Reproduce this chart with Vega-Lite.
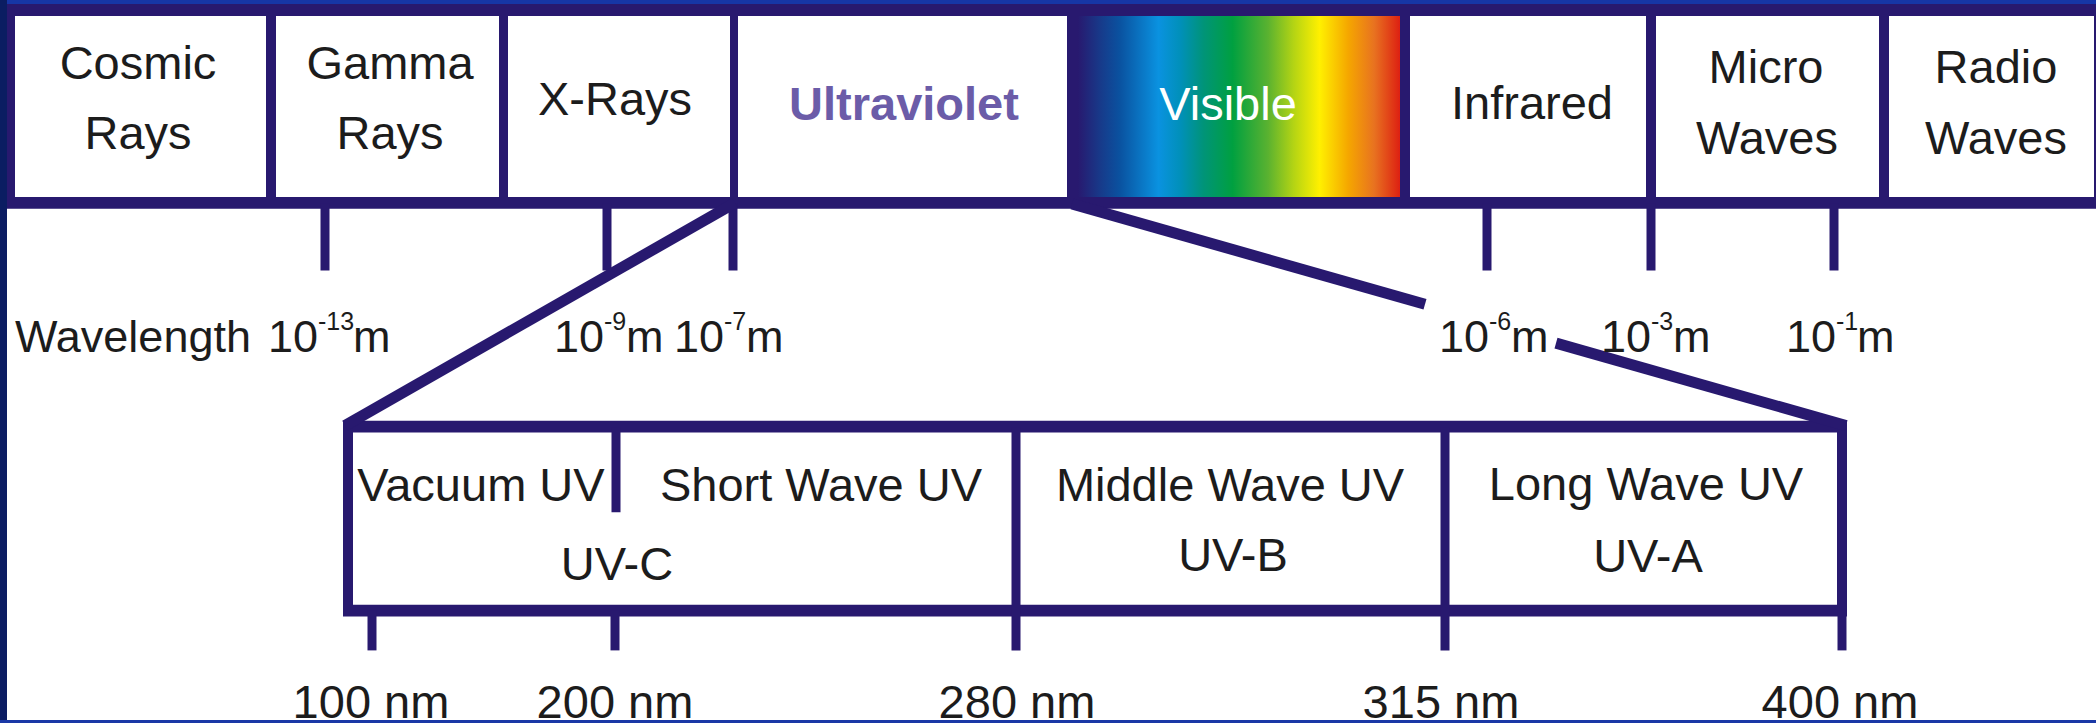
{
  "$schema": "https://vega.github.io/schema/vega-lite/v6.json",
  "autosize": {"type": "fit", "contains": "padding"},
  "width": 2096,
  "height": 727,
  "padding": 0,
  "background": "#ffffff",
  "config": {"view": {"stroke": null}, "axis": {"disable": true}, "text": {"font": "Liberation Sans"}},
  "datasets": {
    "rects": [
      {"part": "navy", "x1": 7, "x2": 2096, "y1": 4, "y2": 210},
      {"part": "white", "x1": 15, "x2": 266, "y1": 16, "y2": 198},
      {"part": "white", "x1": 276, "x2": 499, "y1": 16, "y2": 198},
      {"part": "white", "x1": 508, "x2": 730, "y1": 16, "y2": 198},
      {"part": "white", "x1": 738, "x2": 1067, "y1": 16, "y2": 198},
      {"part": "white", "x1": 1410, "x2": 1646, "y1": 16, "y2": 198},
      {"part": "white", "x1": 1656, "x2": 1879, "y1": 16, "y2": 198},
      {"part": "white", "x1": 1889, "x2": 2094, "y1": 16, "y2": 198},
      {"part": "navy", "x1": 343, "x2": 1847, "y1": 423, "y2": 620},
      {"part": "white", "x1": 353, "x2": 1837, "y1": 435, "y2": 608},
      {"part": "visible", "x1": 1078, "x2": 1400, "y1": 16, "y2": 198},
      {"part": "slideTop", "x1": 0, "x2": 2096, "y1": 0, "y2": 4},
      {"part": "slideLeft", "x1": 0, "x2": 7, "y1": 0, "y2": 727},
      {"part": "slideBottom", "x1": 0, "x2": 2096, "y1": 724, "y2": 727}
    ],
    "lines": [
      {"kind": "tick", "x1": 325, "y1": 205, "x2": 325, "y2": 272},
      {"kind": "tick", "x1": 607, "y1": 205, "x2": 607, "y2": 272},
      {"kind": "tick", "x1": 733, "y1": 205, "x2": 733, "y2": 272},
      {"kind": "tick", "x1": 1487, "y1": 205, "x2": 1487, "y2": 272},
      {"kind": "tick", "x1": 1651, "y1": 205, "x2": 1651, "y2": 272},
      {"kind": "tick", "x1": 1834, "y1": 205, "x2": 1834, "y2": 272},
      {"kind": "tick", "x1": 616, "y1": 430, "x2": 616, "y2": 515},
      {"kind": "tick", "x1": 1016, "y1": 430, "x2": 1016, "y2": 654},
      {"kind": "tick", "x1": 1445, "y1": 430, "x2": 1445, "y2": 654},
      {"kind": "tick", "x1": 372, "y1": 614, "x2": 372, "y2": 654},
      {"kind": "tick", "x1": 615, "y1": 614, "x2": 615, "y2": 654},
      {"kind": "tick", "x1": 1842, "y1": 614, "x2": 1842, "y2": 654},
      {"kind": "zoom", "x1": 735, "y1": 204, "x2": 345, "y2": 428},
      {"kind": "zoom", "x1": 1072, "y1": 205, "x2": 1425, "y2": 306},
      {"kind": "zoom", "x1": 1556, "y1": 345, "x2": 1846, "y2": 428}
    ],
    "labels": [
      {"kind": "band", "label": "Cosmic", "x": 138, "y": 79},
      {"kind": "band", "label": "Rays", "x": 138, "y": 150},
      {"kind": "band", "label": "Gamma", "x": 390, "y": 79},
      {"kind": "band", "label": "Rays", "x": 390, "y": 150},
      {"kind": "band", "label": "X-Rays", "x": 615, "y": 116},
      {"kind": "uvtitle", "label": "Ultraviolet", "x": 904, "y": 121},
      {"kind": "visible", "label": "Visible", "x": 1228, "y": 121},
      {"kind": "band", "label": "Infrared", "x": 1532, "y": 120},
      {"kind": "band", "label": "Micro", "x": 1766, "y": 83},
      {"kind": "band", "label": "Waves", "x": 1767, "y": 155},
      {"kind": "band", "label": "Radio", "x": 1996, "y": 83},
      {"kind": "band", "label": "Waves", "x": 1996, "y": 155},
      {"kind": "band", "label": "Vacuum UV", "x": 481, "y": 504},
      {"kind": "band", "label": "Short Wave UV", "x": 821, "y": 504},
      {"kind": "band", "label": "Middle Wave UV", "x": 1230, "y": 504},
      {"kind": "band", "label": "Long Wave UV", "x": 1646, "y": 503},
      {"kind": "band", "label": "UV-C", "x": 617, "y": 583},
      {"kind": "band", "label": "UV-B", "x": 1233, "y": 574},
      {"kind": "band", "label": "UV-A", "x": 1648, "y": 575},
      {"kind": "band", "label": "100 nm", "x": 371, "y": 722},
      {"kind": "band", "label": "200 nm", "x": 615, "y": 722},
      {"kind": "band", "label": "280 nm", "x": 1017, "y": 722},
      {"kind": "band", "label": "315 nm", "x": 1441, "y": 722},
      {"kind": "band", "label": "400 nm", "x": 1840, "y": 722},
      {"kind": "left", "label": "Wavelength", "x": 15, "y": 354},
      {"kind": "base", "label": "10", "x": 318, "y": 354},
      {"kind": "sup", "label": "-13", "x": 318, "y": 332},
      {"kind": "left", "label": "m", "x": 353, "y": 354},
      {"kind": "base", "label": "10", "x": 604, "y": 354},
      {"kind": "sup", "label": "-9", "x": 604, "y": 332},
      {"kind": "left", "label": "m", "x": 626, "y": 354},
      {"kind": "base", "label": "10", "x": 724, "y": 354},
      {"kind": "sup", "label": "-7", "x": 724, "y": 332},
      {"kind": "left", "label": "m", "x": 746, "y": 354},
      {"kind": "base", "label": "10", "x": 1489, "y": 354},
      {"kind": "sup", "label": "-6", "x": 1489, "y": 332},
      {"kind": "left", "label": "m", "x": 1511, "y": 354},
      {"kind": "base", "label": "10", "x": 1651, "y": 354},
      {"kind": "sup", "label": "-3", "x": 1651, "y": 332},
      {"kind": "left", "label": "m", "x": 1673, "y": 354},
      {"kind": "base", "label": "10", "x": 1836, "y": 354},
      {"kind": "sup", "label": "-1", "x": 1836, "y": 332},
      {"kind": "left", "label": "m", "x": 1857, "y": 354}
    ]
  },
  "layer": [
    {
      "data": {"name": "rects"},
      "transform": [{"filter": "datum.part === 'navy' || datum.part === 'white'"}],
      "mark": {"type": "rect", "strokeWidth": 0},
      "encoding": {
        "x": {"field": "x1", "type": "quantitative", "scale": {"domain": [0, 2096], "nice": false, "zero": false}},
        "x2": {"field": "x2"},
        "y": {"field": "y1", "type": "quantitative", "scale": {"domain": [0, 727], "nice": false, "zero": false, "reverse": true}},
        "y2": {"field": "y2"},
        "color": {"field": "part", "type": "nominal", "legend": null,
          "scale": {"domain": ["navy", "white", "slideTop", "slideLeft", "slideBottom"], "range": ["#28196f", "#ffffff", "#1636a6", "#0b1d62", "#1a38a6"]}}
      }
    },
    {
      "data": {"name": "rects"},
      "transform": [{"filter": "datum.part === 'visible'"}],
      "mark": {"type": "rect", "strokeWidth": 0,
        "fill": {"gradient": "linear", "x1": 0, "y1": 0, "x2": 1, "y2": 0, "stops": [
          {"offset": 0, "color": "#28196f"},
          {"offset": 0.07, "color": "#173a8a"},
          {"offset": 0.13, "color": "#0a52a0"},
          {"offset": 0.25, "color": "#0a92e0"},
          {"offset": 0.32, "color": "#0090b8"},
          {"offset": 0.39, "color": "#009478"},
          {"offset": 0.48, "color": "#00a040"},
          {"offset": 0.59, "color": "#5ab230"},
          {"offset": 0.67, "color": "#b4d414"},
          {"offset": 0.75, "color": "#fff000"},
          {"offset": 0.84, "color": "#f5a600"},
          {"offset": 0.92, "color": "#e87220"},
          {"offset": 1, "color": "#dd2012"}
        ]}},
      "encoding": {
        "x": {"field": "x1", "type": "quantitative"},
        "x2": {"field": "x2"},
        "y": {"field": "y1", "type": "quantitative"},
        "y2": {"field": "y2"}
      }
    },
    {
      "data": {"name": "lines"},
      "transform": [{"filter": "datum.kind === 'tick'"}],
      "mark": {"type": "rule", "color": "#28196f", "strokeWidth": 9, "strokeCap": "butt"},
      "encoding": {
        "x": {"field": "x1", "type": "quantitative"},
        "x2": {"field": "x2"},
        "y": {"field": "y1", "type": "quantitative"},
        "y2": {"field": "y2"}
      }
    },
    {
      "data": {"name": "lines"},
      "transform": [{"filter": "datum.kind === 'zoom'"}],
      "mark": {"type": "rule", "color": "#28196f", "strokeWidth": 11, "strokeCap": "butt"},
      "encoding": {
        "x": {"field": "x1", "type": "quantitative"},
        "x2": {"field": "x2"},
        "y": {"field": "y1", "type": "quantitative"},
        "y2": {"field": "y2"}
      }
    },
    {
      "data": {"name": "labels"},
      "transform": [{"filter": "datum.kind === 'band'"}],
      "mark": {"type": "text", "font": "Liberation Sans", "fontSize": 47, "color": "#1c1c1c", "align": "center", "baseline": "alphabetic"},
      "encoding": {
        "x": {"field": "x", "type": "quantitative"},
        "y": {"field": "y", "type": "quantitative"},
        "text": {"field": "label"}
      }
    },
    {
      "data": {"name": "labels"},
      "transform": [{"filter": "datum.kind === 'uvtitle'"}],
      "mark": {"type": "text", "font": "Liberation Sans", "fontSize": 47, "fontWeight": "bold", "color": "#6b5ca8", "align": "center", "baseline": "alphabetic"},
      "encoding": {
        "x": {"field": "x", "type": "quantitative"},
        "y": {"field": "y", "type": "quantitative"},
        "text": {"field": "label"}
      }
    },
    {
      "data": {"name": "labels"},
      "transform": [{"filter": "datum.kind === 'visible'"}],
      "mark": {"type": "text", "font": "Liberation Sans", "fontSize": 47, "color": "#ffffff", "align": "center", "baseline": "alphabetic"},
      "encoding": {
        "x": {"field": "x", "type": "quantitative"},
        "y": {"field": "y", "type": "quantitative"},
        "text": {"field": "label"}
      }
    },
    {
      "data": {"name": "labels"},
      "transform": [{"filter": "datum.kind === 'left'"}],
      "mark": {"type": "text", "font": "Liberation Sans", "fontSize": 45, "color": "#1c1c1c", "align": "left", "baseline": "alphabetic"},
      "encoding": {
        "x": {"field": "x", "type": "quantitative"},
        "y": {"field": "y", "type": "quantitative"},
        "text": {"field": "label"}
      }
    },
    {
      "data": {"name": "labels"},
      "transform": [{"filter": "datum.kind === 'base'"}],
      "mark": {"type": "text", "font": "Liberation Sans", "fontSize": 45, "color": "#1c1c1c", "align": "right", "baseline": "alphabetic"},
      "encoding": {
        "x": {"field": "x", "type": "quantitative"},
        "y": {"field": "y", "type": "quantitative"},
        "text": {"field": "label"}
      }
    },
    {
      "data": {"name": "labels"},
      "transform": [{"filter": "datum.kind === 'sup'"}],
      "mark": {"type": "text", "font": "Liberation Sans", "fontSize": 25, "color": "#1c1c1c", "align": "left", "baseline": "alphabetic"},
      "encoding": {
        "x": {"field": "x", "type": "quantitative"},
        "y": {"field": "y", "type": "quantitative"},
        "text": {"field": "label"}
      }
    },
    {
      "data": {"name": "rects"},
      "transform": [{"filter": "datum.part === 'slideTop' || datum.part === 'slideLeft' || datum.part === 'slideBottom'"}],
      "mark": {"type": "rect", "strokeWidth": 0},
      "encoding": {
        "x": {"field": "x1", "type": "quantitative"},
        "x2": {"field": "x2"},
        "y": {"field": "y1", "type": "quantitative"},
        "y2": {"field": "y2"},
        "color": {"field": "part", "type": "nominal", "legend": null}
      }
    }
  ]
}
